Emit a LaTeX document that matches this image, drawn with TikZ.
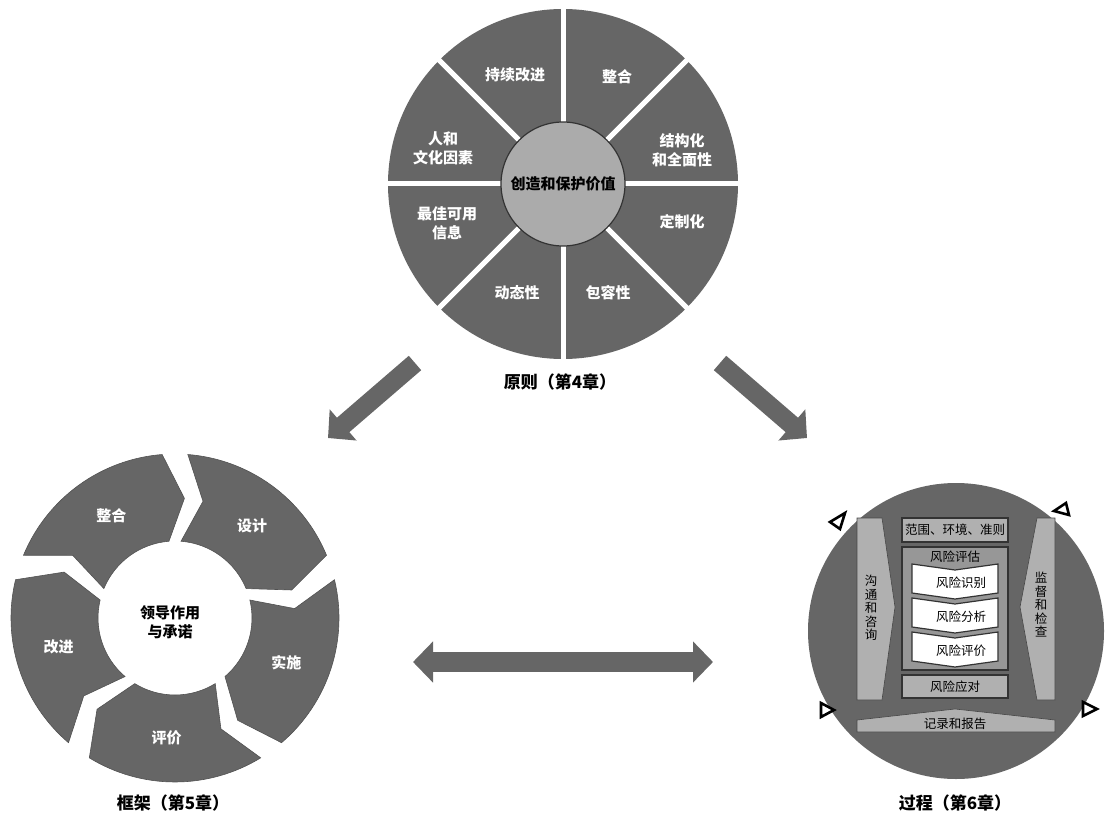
\documentclass[tikz,border=0pt]{standalone}
\usepackage{fontspec}
\setmainfont{Noto Sans CJK SC}
\usetikzlibrary{arrows.meta}
\definecolor{darkseg}{HTML}{666666}
\definecolor{hubgray}{HTML}{ABABAB}
\definecolor{lightgray}{HTML}{B0B0B0}
\definecolor{midgray}{HTML}{979797}
\definecolor{edgegray}{HTML}{333333}

\begin{document}
\begin{tikzpicture}[x=1pt, y=-1pt,
seg/.style={fill=darkseg, draw=darkseg!80!black, line width=0.6pt},
wlabel/.style={text=white, align=center, font=\fontsize{15}{19}\selectfont\bfseries},
blabel/.style={text=black, align=center, font=\fontsize{15}{19}\selectfont\bfseries},
chapter/.style={text=black, font=\fontsize{17}{20}\selectfont\bfseries},
small/.style={text=black, align=center, font=\fontsize{12.5}{13.5}\selectfont},
hub/.style={circle, fill=hubgray, draw=edgegray, line width=1.2pt, inner sep=0pt, minimum size=124pt},
graybox/.style={draw=edgegray, line width=1.5pt, fill=lightgray, inner sep=0pt, minimum width=106pt},
stepbox/.style={draw=edgegray, line width=1.2pt, fill=white, line join=miter},
sidebar/.style={draw=darkseg!70!black, line width=0.6pt, fill=lightgray},
marker/.style={draw=black, fill=white, line width=2.6pt, line join=miter},
bigarrow/.style={draw=darkseg, line width=19pt, -{Triangle[width=40pt, length=20pt]}},
twoway/.style={draw=darkseg, line width=20pt, {Triangle[width=40pt, length=20pt]}-{Triangle[width=40pt, length=20pt]}}
]
\useasboundingbox (0,0) rectangle (1105,818);

% principles wheel
\coordinate (pc) at (563,184);
\fill[darkseg] (pc) circle[radius=175];
\foreach \a in {0,45,...,315}
  \draw[white, line width=5pt] (pc) -- ++(\a:177);
\node[hub, blabel] (value) at (pc) {创造和保护价值};
\node[wlabel] (p1) at (515,75) {持续改进};
\node[wlabel] (p2) at (617,77) {整合};
\node[wlabel] (p3) at (682,150) {结构化\\和全面性};
\node[wlabel] (p4) at (682,222) {定制化};
\node[wlabel] (p5) at (608,293) {包容性};
\node[wlabel] (p6) at (517,293) {动态性};
\node[wlabel] (p7) at (447,223) {最佳可用\\信息};
\node[wlabel] (p8) at (443,148) {人和\\文化因素};
\node[chapter] (principles) at (560,382) {原则（第4章）};

% framework cycle
\begin{scope}[shift={(175,618)}]
\foreach \b/\t [count=\i] in {-162/整合, -90/设计, -18/实施, 54/评价, 126/改进} {
  \path[seg] (\b+4.5:164) arc[start angle=\b+4.5, end angle=\b+67.5, radius=164]
    -- (\b+76.5:120) -- (\b+67.5:77) arc[start angle=\b+67.5, end angle=\b+4.5, radius=77]
    -- (\b+13.5:120) -- cycle;
  \node[wlabel] (f\i) at (\b+40:120) {\t};
}
\end{scope}
\node[blabel] (leader) at (170,622) {领导作用\\与承诺};
\node[chapter] (framework) at (173,803) {框架（第5章）};

% process circle
\coordinate (qc) at (956,631);
\fill[darkseg] (qc) circle[radius=148];
\draw[sidebar] (857,518) -- (882,518) -- (895,607) -- (882,700) -- (857,700) -- cycle;
\draw[sidebar] (1055,518) -- (1037,518) -- (1020,607) -- (1037,700) -- (1055,700) -- cycle;
\draw[sidebar] (857,732) -- (857,720) -- (955,709) -- (1055,720) -- (1055,732) -- cycle;
\node[small] (talk) at (871,608) {沟\\通\\和\\咨\\询};
\node[small] (watch) at (1041,605) {监\\督\\和\\检\\查};
\node[small] (record) at (955,724) {记录和报告};
\node[graybox, minimum height=24pt, small] (scope) at (955,530) {范围、环境、准则};
\node[graybox, minimum height=123pt, fill=midgray] (assess) at (955,608.5) {};
\node[small] (assesstitle) at (955,557) {风险评估};
\foreach \t/\n [count=\i] in {564/风险识别, 598/风险分析, 632/风险评价} {
  \draw[stepbox] (912,\t) -- (955,\t+6) -- (998,\t) -- (998,\t+29) -- (955,\t+35) -- (912,\t+29) -- cycle;
  \node[small] (step\i) at (961,\t+19) {\n};
}
\node[graybox, minimum height=23pt, small] (treat) at (955,686.5) {风险应对};
\draw[marker] (830,522) -- (845,513) -- (840,529) -- cycle;
\draw[marker] (1054,511) -- (1066,503) -- (1069,515) -- cycle;
\draw[marker] (821,703) -- (821,717) -- (834,710) -- cycle;
\draw[marker] (1083,702) -- (1083,716) -- (1097,709) -- cycle;
\node[chapter] (process) at (955,803) {过程（第6章）};

% arrows
\coordinate (a1) at (415,363);
\coordinate (a2) at (328,438);
\coordinate (b1) at (720,363);
\coordinate (b2) at (807,438);
\coordinate (c1) at (413,662);
\coordinate (c2) at (713,662);
\draw[bigarrow] (a1) -- (a2);
\draw[bigarrow] (b1) -- (b2);
\draw[twoway] (c1) -- (c2);
\end{tikzpicture}
\end{document}
